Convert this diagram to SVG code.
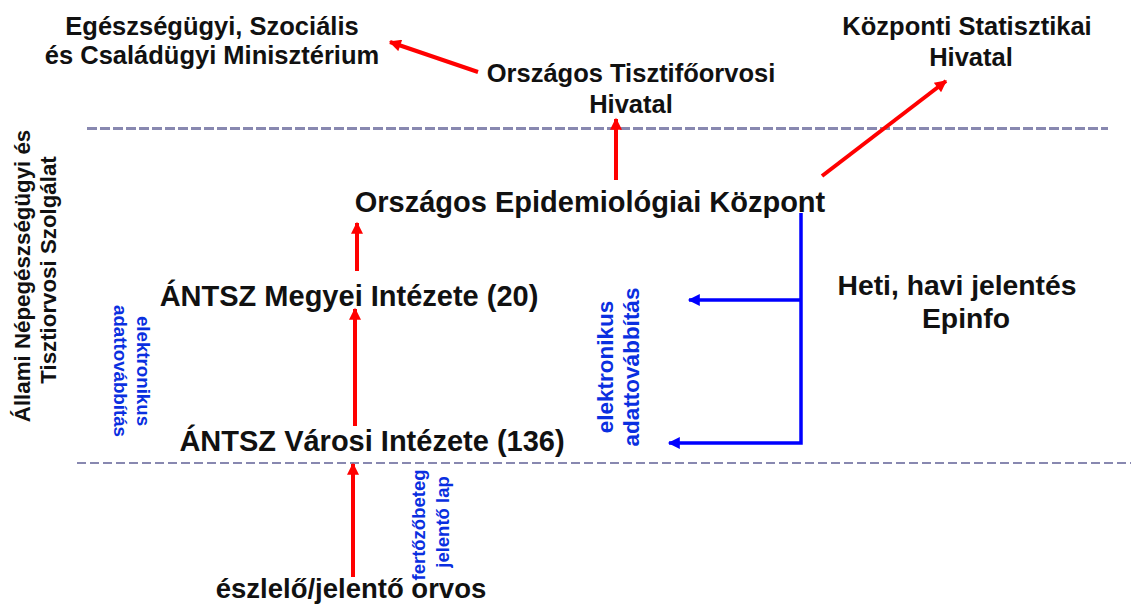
<svg xmlns="http://www.w3.org/2000/svg" width="1132" height="607" viewBox="0 0 1132 607">
<style>
text{font-family:"Liberation Sans",Arial,sans-serif;font-weight:bold;fill:#111;}
.h{font-size:25.5px;text-anchor:middle;}
.m{font-size:29px;text-anchor:middle;}
.b{fill:#0a2fe0;text-anchor:middle;}
.red{stroke:#ff0000;stroke-width:4;fill:none;}
.blue{stroke:#0000ff;stroke-width:3.5;fill:none;}
.dash{stroke:#8888b0;fill:none;}
</style>
<defs>
<marker id="arR" viewBox="0 0 10 10" refX="9" refY="5" markerWidth="14" markerHeight="12" orient="auto" markerUnits="userSpaceOnUse">
<path d="M0,0 L10,5 L0,10 z" fill="#ff0000"/>
</marker>
<marker id="arB" viewBox="0 0 10 10" refX="9" refY="5" markerWidth="14" markerHeight="12" orient="auto" markerUnits="userSpaceOnUse">
<path d="M0,0 L10,5 L0,10 z" fill="#0000ff"/>
</marker>
</defs>
<g id="separators">
<line class="dash" x1="87" y1="128.5" x2="1108" y2="128.5" stroke-width="3" stroke-dasharray="10,3"/>
<line class="dash" x1="77" y1="463" x2="1131" y2="463" stroke-width="2" stroke-dasharray="9,4"/>
</g>
<g id="ministry"><text class="h" x="212" y="35">Egészségügyi, Szociális</text><text class="h" x="212" y="64">és Családügyi Minisztérium</text></g>
<g id="otfh"><text class="h" x="631" y="82">Országos Tisztifőorvosi</text><text class="h" x="631" y="113">Hivatal</text></g>
<g id="ksh"><text class="h" x="967" y="35">Központi Statisztikai</text><text class="h" x="971" y="66">Hivatal</text></g>
<g id="oek"><text class="m" x="590" y="212">Országos Epidemiológiai Központ</text></g>
<g id="megyei"><text class="m" x="349" y="306">ÁNTSZ Megyei Intézete (20)</text></g>
<g id="varosi"><text class="m" x="372" y="451">ÁNTSZ Városi Intézete (136)</text></g>
<g id="orvos"><text class="m" x="351" y="598" style="font-size:27.5px">észlelő/jelentő orvos</text></g>
<g id="heti"><text class="m" x="957" y="295" style="font-size:28.3px">Heti, havi jelentés</text><text class="m" x="966" y="328" style="font-size:28.3px">Epinfo</text></g>
<g id="antsz-label"><text class="h" style="font-size:22.3px" transform="translate(30,276) rotate(-90)">Állami Népegészségügyi és</text><text class="h" style="font-size:22.3px" transform="translate(56,270) rotate(-90)">Tisztiorvosi Szolgálat</text></g>
<g id="labels-blue">
<text class="b" style="font-size:18.7px" transform="translate(137,371) rotate(90)">elektronikus</text>
<text class="b" style="font-size:18.7px" transform="translate(114,371) rotate(90)">adattovábbítás</text>
<text class="b" style="font-size:22.5px" transform="translate(613,367) rotate(-90)">elektronikus</text>
<text class="b" style="font-size:22.5px" transform="translate(639,367) rotate(-90)">adattovábbítás</text>
<text class="b" style="font-size:18.5px" transform="translate(425,525) rotate(-90)">fertőzőbeteg</text>
<text class="b" style="font-size:18.5px" transform="translate(449,522) rotate(-90)">jelentő lap</text>
</g>
<g id="connectors">
<line class="red" x1="478" y1="72" x2="390" y2="42" marker-end="url(#arR)"/>
<line class="red" x1="616" y1="180" x2="616" y2="119" marker-end="url(#arR)"/>
<line class="red" x1="822" y1="176" x2="946" y2="81" marker-end="url(#arR)"/>
<line class="red" x1="357" y1="271" x2="357" y2="223" marker-end="url(#arR)"/>
<line class="red" x1="355" y1="426" x2="355" y2="309" marker-end="url(#arR)"/>
<line class="red" x1="353" y1="577" x2="353" y2="464" marker-end="url(#arR)"/>
<polyline class="blue" points="801,213 801,443 669,443" marker-end="url(#arB)"/>
<line class="blue" x1="801" y1="300" x2="689" y2="300" marker-end="url(#arB)"/>
</g>
</svg>
